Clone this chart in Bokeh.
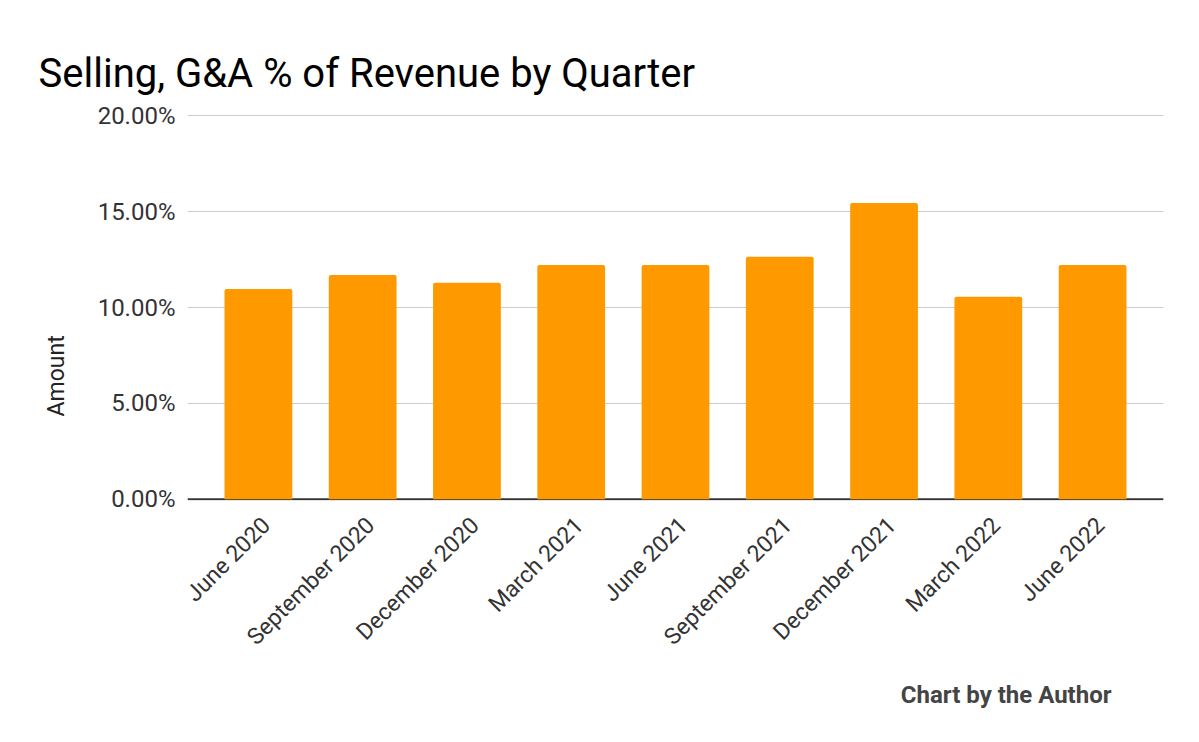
import math
from bokeh.plotting import figure
from bokeh.models import (Range1d, FixedTicker, PrintfTickFormatter, Span, Title, LinearAxis)
from bokeh.embed import file_html
from bokeh.resources import INLINE

quarters = ["June 2020", "September 2020", "December 2020", "March 2021", "June 2021",
            "September 2021", "December 2021", "March 2022", "June 2022"]
sga_pct = [10.97, 11.70, 11.29, 12.22, 12.22, 12.64, 15.45, 10.56, 12.22]
y_ticks = [0, 5, 10, 15, 20]

FONT = "Roboto"
PAD = 0.18
SHIFT = 0.077  # small shift so slanted labels end just right of the bar centre

# category slots: quarter i is centred at i + 0.5
slot = [i + 0.5 for i in range(len(quarters))]

p = figure(width=1199, height=742, output_backend="svg", toolbar_location=None,
           x_range=Range1d(-PAD, len(quarters) + PAD),
           y_range=Range1d(-0.06, 20.06),
           min_border_left=187, min_border_right=36, min_border_top=114, min_border_bottom=242)
p.extra_x_ranges = {"lab": Range1d(-PAD - SHIFT, len(quarters) + PAD - SHIFT)}

p.title = Title(text="Selling, G&A % of Revenue by Quarter", text_font=FONT, text_font_size="40px",
                text_font_style="normal", text_color="#000000", align="left", offset=-149,
                standoff=36)

base = Span(location=0, dimension="width", line_color="#333333", line_width=2)
base.level = "underlay"
p.add_layout(base)

p.vbar(x=slot, top=sga_pct, bottom=0, width=0.65, fill_color="#FF9900", line_color=None,
       border_radius=(2, 2, 0, 0))

p.outline_line_color = None
p.xgrid.grid_line_color = None
p.ygrid.grid_line_color = "#CCCCCC"
p.ygrid.grid_line_width = 1

p.yaxis.ticker = FixedTicker(ticks=y_ticks)
p.yaxis.formatter = PrintfTickFormatter(format="%.2f%%")
p.yaxis.axis_line_color = None
p.yaxis.major_tick_line_color = None
p.yaxis.minor_tick_line_color = None
p.yaxis.major_tick_out = 0
p.yaxis.major_tick_in = 0
p.yaxis.major_label_standoff = 12
p.yaxis.major_label_text_font = FONT
p.yaxis.major_label_text_font_size = "24px"
p.yaxis.major_label_text_color = "#333333"

p.add_layout(Title(text="Amount", text_font=FONT, text_font_size="23px", text_font_style="normal",
                   text_color="#222222", align="left", offset=84, standoff=49), "left")

p.xaxis.visible = False
xax = LinearAxis(x_range_name="lab", ticker=FixedTicker(ticks=slot, minor_ticks=[]),
                 major_label_overrides={pos: q for pos, q in zip(slot, quarters)})
xax.axis_line_color = None
xax.major_tick_line_color = None
xax.minor_tick_line_color = None
xax.major_tick_out = 0
xax.major_tick_in = 0
xax.major_label_standoff = 21
xax.major_label_orientation = math.pi / 4
xax.major_label_text_font = FONT
xax.major_label_text_font_size = "23px"
xax.major_label_text_color = "#333333"
p.add_layout(xax, "below")

p.add_layout(Title(text="Chart by the Author", text_font=FONT, text_font_size="24px",
                   text_font_style="bold", text_color="#444444", align="right", offset=52,
                   standoff=31), "below")

open("out.html", "w").write(file_html(p, INLINE))
